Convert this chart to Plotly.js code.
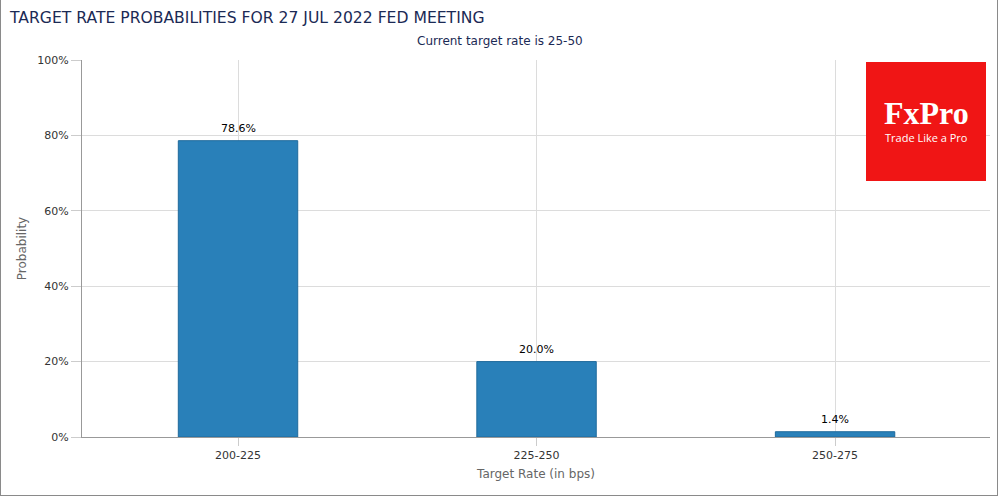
<!DOCTYPE html>
<html><head><meta charset="utf-8">
<script src="https://cdn.plot.ly/plotly-3.0.1.min.js"></script>
<style>
html,body{margin:0;padding:0;background:#fff;}
#wrap{position:relative;width:1000px;height:500px;}
#chart{width:1000px;height:500px;}
#frame{position:absolute;left:0;top:-2px;width:996px;height:497px;border:1px solid #8a8a8a;border-top:none;pointer-events:none;}
</style></head>
<body>
<div id="wrap"><div id="chart"></div><div id="frame"></div></div>
<script>
const categories = ["200-225", "225-250", "250-275"];
const probabilities = [78.6, 20.0, 1.4];
const valueLabels = ["78.6%", "20.0%", "1.4%"];
const yTickVals = [0, 20, 40, 60, 80, 100];
const yTickText = ["0%", "20%", "40%", "60%", "80%", "100%"];

const navy = "#1b2a55";
const xPos = categories.map((c, i) => i);
const trace = {
  type: "bar",
  x: xPos,
  y: probabilities,
  width: 0.4,
  marker: {color: "#2980b9", line: {color: "#1f6a9c", width: 1}},
  hoverinfo: "none"
};

const labelAnns = xPos.map((x, i) => ({
  text: valueLabels[i], x: x, y: probabilities[i], xref: "x", yref: "y",
  xanchor: "center", yanchor: "bottom", yshift: 4, showarrow: false,
  font: {family: "DejaVu Sans, sans-serif", size: 11, color: "#000"}
}));

const layout = {
  width: 1000, height: 500,
  margin: {l: 82, r: 10, t: 60, b: 63},
  paper_bgcolor: "#fff", plot_bgcolor: "#fff",
  showlegend: false,
  title: {text: "TARGET RATE PROBABILITIES FOR 27 JUL 2022 FED MEETING",
    x: 0.01, xanchor: "left", y: 0.964, yanchor: "middle",
    font: {family: "DejaVu Sans, sans-serif", size: 15.6, color: navy}},
  xaxis: {
    range: [-0.5226, 2.519],
    tickvals: xPos, ticktext: categories,
    showgrid: true, gridcolor: "#dcdcdc", gridwidth: 1,
    showline: true, linecolor: "#999", linewidth: 1,
    ticks: "outside", ticklen: 8, tickcolor: "#ccc",
    tickfont: {family: "DejaVu Sans, sans-serif", size: 11, color: "#333"},
    title: {text: "Target Rate (in bps)", standoff: 8,
      font: {family: "DejaVu Sans, sans-serif", size: 12, color: "#666"}},
    zeroline: false, fixedrange: true
  },
  yaxis: {
    range: [0, 100],
    tickvals: yTickVals, ticktext: yTickText,
    showgrid: true, gridcolor: "#dcdcdc", gridwidth: 1,
    showline: true, linecolor: "#999", linewidth: 1,
    ticks: "outside", ticklen: 10, tickcolor: "#ccc",
    tickfont: {family: "DejaVu Sans, sans-serif", size: 11, color: "#333"},
    title: {text: "Probability", standoff: 8,
      font: {family: "DejaVu Sans, sans-serif", size: 12, color: "#666"}},
    zeroline: false, fixedrange: true
  },
  shapes: [
    {type: "rect", xref: "paper", yref: "paper",
     x0: (866-82)/908, x1: (986-82)/908, y0: (437-181)/377, y1: (437-62)/377,
     fillcolor: "#f01515", line: {width: 0}, layer: "above"}
  ],
  annotations: labelAnns.concat([
    {text: "Current target rate is 25-50", xref: "paper", yref: "paper",
     x: (500-82)/908, y: (437-41)/377, xanchor: "center", yanchor: "middle", showarrow: false,
     font: {family: "DejaVu Sans, sans-serif", size: 12, color: navy}},
    {text: "<b>FxPro</b>", xref: "paper", yref: "paper",
     x: (926-82)/908, y: (437-113)/377, xanchor: "center", yanchor: "middle", showarrow: false,
     font: {family: "Liberation Serif, serif", size: 32, color: "#fff"}},
    {text: "Trade Like a Pro", xref: "paper", yref: "paper",
     x: (926-82)/908, y: (437-137)/377, xanchor: "center", yanchor: "middle", showarrow: false,
     font: {family: "Open Sans, sans-serif", size: 11, color: "#fff"}}
  ])
};

Plotly.newPlot("chart", [trace], layout, {displayModeBar: false, staticPlot: true});
</script>
</body></html>
